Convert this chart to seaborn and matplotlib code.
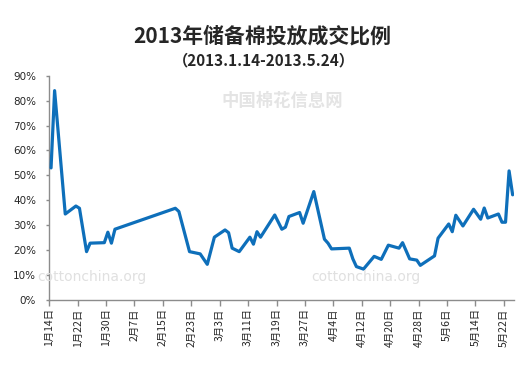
import numpy as np
import pandas as pd
import matplotlib
matplotlib.use("Agg")
import matplotlib.pyplot as plt
from matplotlib.ticker import FuncFormatter
import seaborn as sns

# data (trading dates and deal ratio in %)
dates = ["2013-01-14", "2013-01-15", "2013-01-18", "2013-01-21", "2013-01-22",
         "2013-01-24", "2013-01-25", "2013-01-29", "2013-01-30", "2013-01-31",
         "2013-02-01", "2013-02-18", "2013-02-19", "2013-02-22", "2013-02-25",
         "2013-02-27", "2013-03-01", "2013-03-04", "2013-03-05", "2013-03-06",
         "2013-03-08", "2013-03-11", "2013-03-12", "2013-03-13", "2013-03-14",
         "2013-03-18", "2013-03-20", "2013-03-21", "2013-03-22", "2013-03-25",
         "2013-03-26", "2013-03-29", "2013-04-01", "2013-04-02", "2013-04-03",
         "2013-04-08", "2013-04-09", "2013-04-10", "2013-04-12", "2013-04-15",
         "2013-04-17", "2013-04-19", "2013-04-22", "2013-04-23", "2013-04-25",
         "2013-04-27", "2013-04-28", "2013-05-02", "2013-05-03", "2013-05-06",
         "2013-05-07", "2013-05-08", "2013-05-10", "2013-05-13", "2013-05-15",
         "2013-05-16", "2013-05-17", "2013-05-20", "2013-05-21", "2013-05-22",
         "2013-05-23", "2013-05-24"]
ratio = [53.0, 84.0, 34.5, 37.7, 36.8,
         19.4, 22.8, 23.0, 27.2, 22.8,
         28.4, 36.8, 35.5, 19.4, 18.5,
         14.3, 25.2, 28.1, 27.0, 20.8,
         19.4, 25.2, 22.4, 27.4, 25.2,
         34.1, 28.4, 29.2, 33.5, 35.1,
         30.8, 43.5, 24.4, 22.8, 20.5,
         20.8, 16.5, 13.4, 12.4, 17.5,
         16.3, 22.0, 20.8, 23.0, 16.5,
         16.0, 13.9, 17.7, 24.8, 30.5,
         27.4, 34.0, 29.7, 36.4, 32.4,
         36.9, 32.9, 34.5, 31.2, 31.2,
         51.8, 42.2]
tick_dates = pd.date_range("2013-01-14", "2013-05-22", freq="8D")
tick_labels = [f"{d.month}月{d.day}日" for d in tick_dates]

title = "2013年储备棉投放成交比例"
subtitle = "（2013.1.14-2013.5.24）"

sns.set_style("white")
plt.rcParams["font.family"] = ["DejaVu Sans", "Noto Sans CJK SC"]
cjk = ["Noto Sans CJK SC", "DejaVu Sans"]

df = pd.DataFrame({"date": pd.to_datetime(dates) + pd.Timedelta(hours=12),
                   "ratio": np.array(ratio) / 100})

fig = plt.figure(figsize=(5.27, 3.71), dpi=100)
ax = fig.add_axes([0.0935, 0.1914, 0.8826, 0.6046])

# faint watermarks
fig.text(0.535, 0.728, "中国棉花信息网", family=cjk, fontsize=12.5, fontweight="bold",
         color="#e4e4e4", ha="center", va="center", zorder=0)
fig.text(0.175, 0.253, "cottonchina.org", fontsize=10, color="#e0e0e0",
         ha="center", va="center", zorder=0)
fig.text(0.695, 0.253, "cottonchina.org", fontsize=10, color="#e0e0e0",
         ha="center", va="center", zorder=0)

sns.lineplot(data=df, x="date", y="ratio", ax=ax, color="#0e6fba",
             linewidth=2.3, zorder=3)

ax.set_xlim(pd.Timestamp("2013-01-14"), pd.Timestamp("2013-05-25"))
ax.set_ylim(0, 0.9)
ax.set_yticks(np.arange(0, 0.91, 0.1))
ax.yaxis.set_major_formatter(FuncFormatter(lambda v, p: f"{v*100:.0f}%"))
ax.set_xticks(tick_dates)
ax.set_xticklabels(tick_labels, rotation=90, family=cjk, fontsize=7.5)
ax.set_xlabel("")
ax.set_ylabel("")
ax.patch.set_alpha(0)

for s in ["top", "right"]:
    ax.spines[s].set_visible(False)
for s in ["left", "bottom"]:
    ax.spines[s].set_color("#8c8c8c")
    ax.spines[s].set_linewidth(1.0)
ax.tick_params(axis="y", length=2.5, width=1, color="#8c8c8c", direction="out",
               pad=7, labelsize=7.5, left=True)
ax.tick_params(axis="x", length=4, width=1, color="#8c8c8c", direction="out",
               pad=2, bottom=True)

fig.text(0.497, 0.903, title, family=cjk, fontsize=15, fontweight="bold",
         ha="center", va="center")
fig.text(0.5, 0.836, subtitle, family=cjk, fontsize=11, fontweight="bold",
         ha="center", va="center")

fig.savefig("out.png", dpi=100)
